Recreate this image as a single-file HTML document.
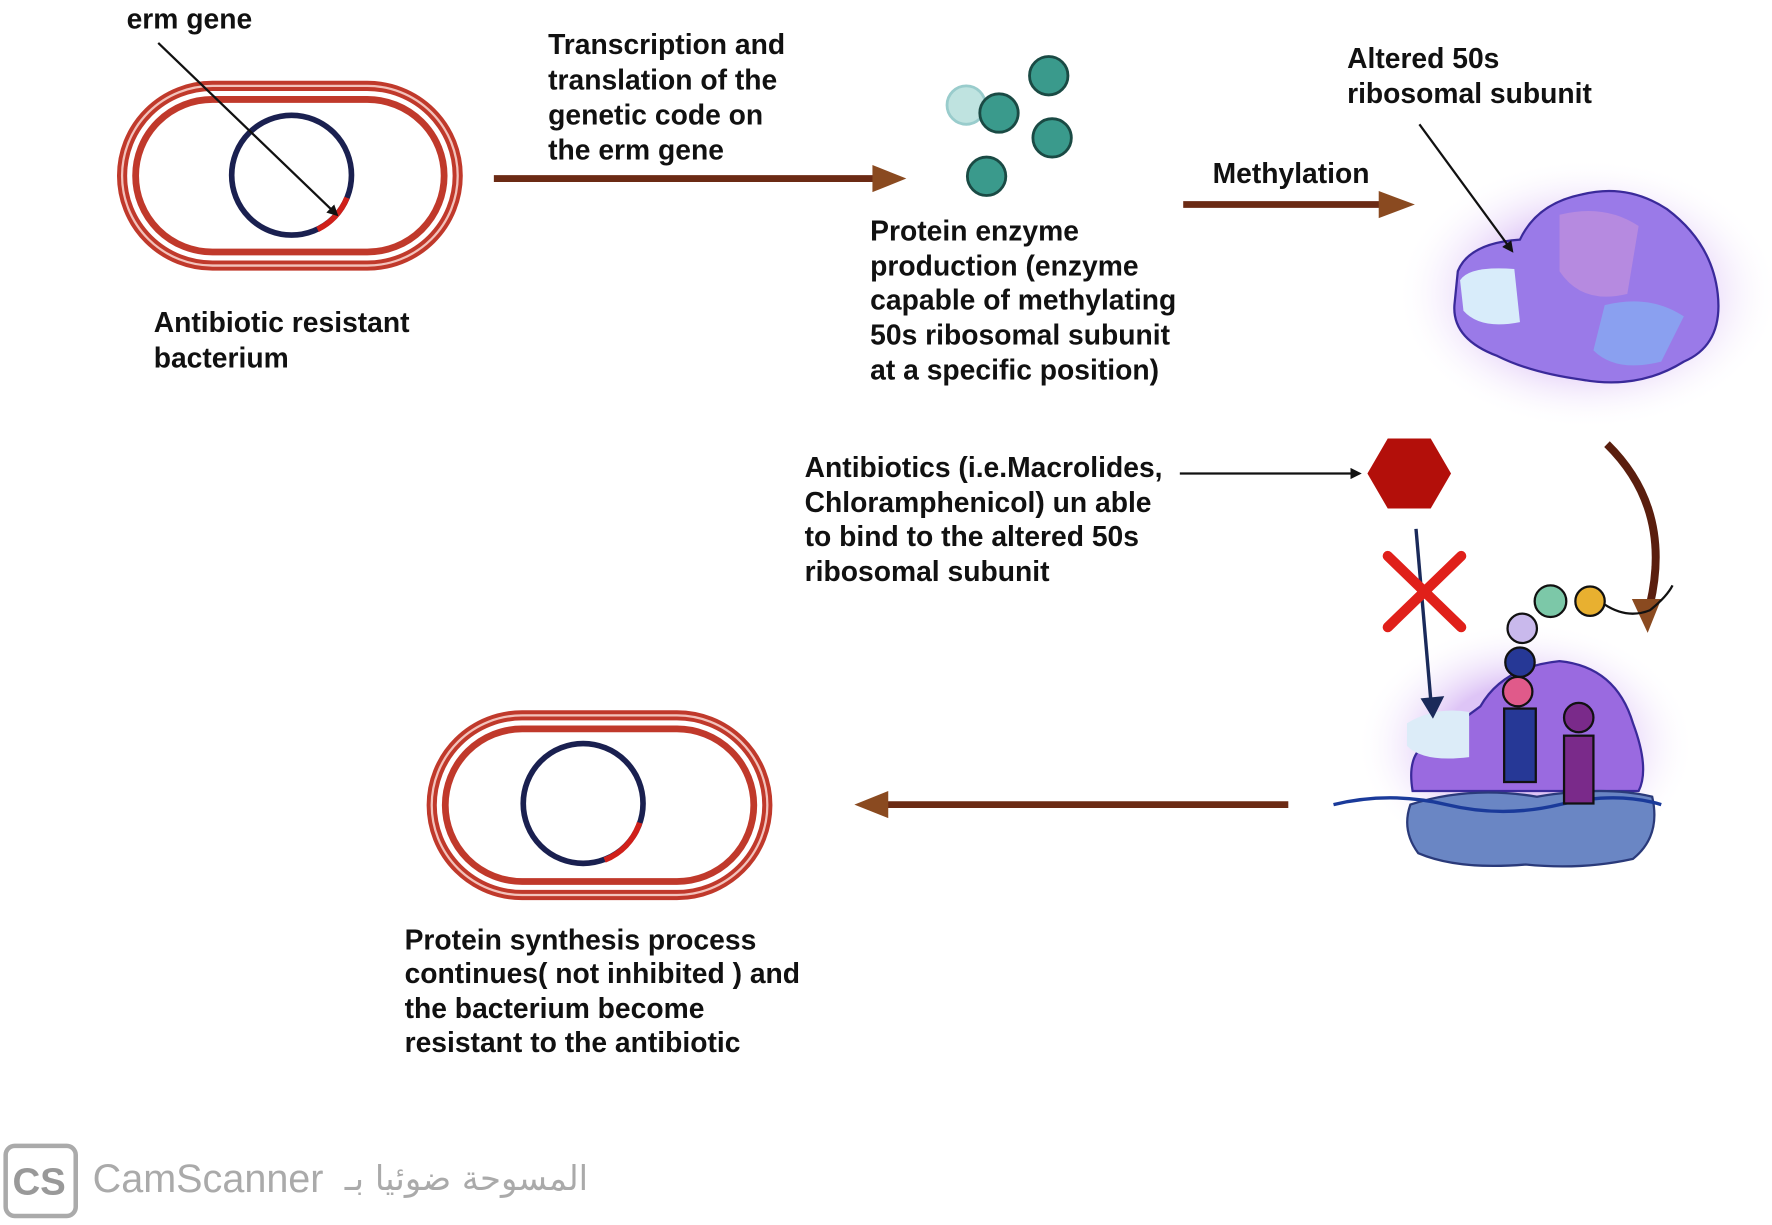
<!DOCTYPE html>
<html><head><meta charset="utf-8"><style>
html,body{margin:0;padding:0;background:#fff;}
svg{display:block}
text{font-family:"Liberation Sans",sans-serif;font-weight:bold;font-size:25px;fill:#111;}
</style></head><body>
<svg width="1772" height="1225" viewBox="0 0 1568 1084" xmlns="http://www.w3.org/2000/svg">
<defs>
<marker id="ah" markerWidth="10" markerHeight="10" refX="8" refY="5" orient="auto" markerUnits="userSpaceOnUse"><path d="M0,0 L10,5 L0,10z" fill="#111"/></marker>
<radialGradient id="glow"><stop offset="0.5" stop-color="#c89ef0" stop-opacity="0.6"/><stop offset="1" stop-color="#fff" stop-opacity="0"/></radialGradient>
</defs>
<!-- bacterium 1 -->
<g>
<rect x="108" y="76" width="297" height="159" rx="80" fill="none" stroke="#c0392b" stroke-width="9"/>
<rect x="108" y="76" width="297" height="159" rx="80" fill="none" stroke="#f2c2bb" stroke-width="2"/>
<rect x="120" y="88" width="273" height="135" rx="68" fill="none" stroke="#c0392b" stroke-width="6"/>
<circle cx="258" cy="155" r="53" fill="none" stroke="#1a2050" stroke-width="5"/>
<path d="M307,175 A53,53 0 0 1 281,203" fill="none" stroke="#d0201a" stroke-width="5"/>
<line x1="140" y1="38" x2="298" y2="190" stroke="#111" stroke-width="2" marker-end="url(#ah)"/>
</g>
<text x="112" y="25">erm gene</text>
<text x="136" y="294">Antibiotic resistant</text>
<text x="136" y="325">bacterium</text>
<!-- bacterium 2 -->
<g>
<rect x="382" y="633" width="297" height="159" rx="80" fill="none" stroke="#c0392b" stroke-width="9"/>
<rect x="382" y="633" width="297" height="159" rx="80" fill="none" stroke="#f2c2bb" stroke-width="2"/>
<rect x="394" y="645" width="273" height="135" rx="68" fill="none" stroke="#c0392b" stroke-width="6"/>
<circle cx="516" cy="711" r="53" fill="none" stroke="#1a2050" stroke-width="5"/>
<path d="M566,728 A53,53 0 0 1 535,761" fill="none" stroke="#d0201a" stroke-width="5"/>
</g>
<text x="358" y="840">Protein synthesis process</text>
<text x="358" y="870">continues( not inhibited ) and</text>
<text x="358" y="901">the bacterium become</text>
<text x="358" y="931">resistant to the antibiotic</text>
<!-- arrows -->
<g fill="#7a3a1a" stroke="#6b2a14">
<line x1="437" y1="158" x2="780" y2="158" stroke-width="6"/><path d="M772,146 L802,158 L772,170z" stroke="none" fill="#8a4a20"/>
<line x1="1047" y1="181" x2="1228" y2="181" stroke-width="6"/><path d="M1220,169 L1252,181 L1220,193z" stroke="none" fill="#8a4a20"/>
<line x1="1140" y1="712" x2="780" y2="712" stroke-width="6"/><path d="M786,700 L756,712 L786,724z" stroke="none" fill="#8a4a20"/>
</g>
<text x="485" y="48">Transcription and</text>
<text x="485" y="79">translation of the</text>
<text x="485" y="110">genetic code on</text>
<text x="485" y="141">the erm gene</text>
<text x="1073" y="162">Methylation</text>
<!-- dots -->
<g stroke="#1a4a44" stroke-width="2.5">
<circle cx="855" cy="93" r="17" fill="#bfe3e0" stroke="#9cc"/>
<circle cx="884" cy="100" r="17" fill="#3a9a8c"/>
<circle cx="928" cy="67" r="17" fill="#3a9a8c"/>
<circle cx="931" cy="122" r="17" fill="#3a9a8c"/>
<circle cx="873" cy="156" r="17" fill="#3a9a8c"/>
</g>
<text x="770" y="213">Protein enzyme</text>
<text x="770" y="244">production (enzyme</text>
<text x="770" y="274">capable of methylating</text>
<text x="770" y="305">50s ribosomal subunit</text>
<text x="770" y="336">at a specific position)</text>
<text x="1192" y="60">Altered 50s</text>
<text x="1192" y="91">ribosomal subunit</text>
<!-- ribosome top -->
<ellipse cx="1405" cy="260" rx="170" ry="120" fill="url(#glow)"/>
<path d="M1290,240 Q1300,215 1345,212 Q1360,180 1400,172 Q1440,162 1475,185 Q1515,215 1520,260 Q1525,305 1490,320 Q1450,345 1400,336 Q1355,330 1325,315 Q1285,300 1287,270z" fill="#9a7ae8" stroke="#3a2a9a" stroke-width="2"/>
<path d="M1292,248 Q1300,235 1340,238 L1345,285 Q1310,292 1295,275z" fill="#d8ecfa"/>
<path d="M1380,190 Q1420,180 1450,200 L1440,260 Q1400,270 1380,240z" fill="#b68ae0"/>
<path d="M1420,270 Q1460,260 1490,280 L1470,320 Q1430,330 1410,310z" fill="#8aa0f0"/>
<line x1="1256" y1="110" x2="1338" y2="222" stroke="#111" stroke-width="2" marker-end="url(#ah)"/>
<!-- curved arrow -->
<path d="M1422,393 Q1480,450 1460,535" fill="none" stroke="#5a1e0e" stroke-width="7"/>
<path d="M1444,530 L1458,560 L1470,530z" fill="#8a4a20"/>
<!-- hexagon -->
<polygon points="1210,419 1228,388 1266,388 1284,419 1266,450 1228,450" fill="#b30f0a"/>
<line x1="1044" y1="419" x2="1203" y2="419" stroke="#111" stroke-width="2" marker-end="url(#ah)"/>
<text x="712" y="422">Antibiotics (i.e.Macrolides,</text>
<text x="712" y="453">Chloramphenicol) un able</text>
<text x="712" y="483">to bind to the altered 50s</text>
<text x="712" y="514">ribosomal subunit</text>
<!-- ribosome bottom -->
<ellipse cx="1350" cy="660" rx="150" ry="110" fill="url(#glow)"/>
<path d="M1250,700 Q1245,670 1260,660 Q1290,640 1310,625 Q1330,590 1380,585 Q1430,590 1445,640 Q1460,680 1450,700z" fill="#9a6ae0" stroke="#3a2a9a" stroke-width="2"/>
<path d="M1245,640 Q1270,625 1300,630 L1300,670 Q1260,675 1245,660z" fill="#dcecf8"/>
<path d="M1248,712 Q1300,695 1360,705 Q1420,695 1462,705 Q1470,740 1445,760 Q1400,770 1350,765 Q1290,770 1255,755 Q1240,735 1248,712z" fill="#6a86c4" stroke="#2a3a7a" stroke-width="2"/>
<path d="M1180,712 Q1230,700 1280,712 T1380,712 T1470,712" fill="none" stroke="#1a3a9a" stroke-width="3"/>
<rect x="1331" y="627" width="28" height="65" fill="#263896" stroke="#111" stroke-width="2"/>
<rect x="1384" y="651" width="26" height="60" fill="#7a2a8a" stroke="#111" stroke-width="2"/>
<circle cx="1397" cy="635" r="13" fill="#7a2a8a" stroke="#111" stroke-width="2"/>
<circle cx="1343" cy="612" r="13" fill="#e05a8a" stroke="#111" stroke-width="2"/>
<circle cx="1345" cy="586" r="13" fill="#263896" stroke="#111" stroke-width="2"/>
<circle cx="1347" cy="556" r="13" fill="#c9b9ec" stroke="#111" stroke-width="2"/>
<circle cx="1372" cy="532" r="14" fill="#7cc8a8" stroke="#111" stroke-width="2"/>
<circle cx="1407" cy="532" r="13" fill="#e8b030" stroke="#111" stroke-width="2"/>
<path d="M1420,535 Q1440,548 1460,540 Q1475,528 1480,518" fill="none" stroke="#111" stroke-width="2"/>
<!-- blocked arrow -->
<line x1="1253" y1="468" x2="1267" y2="630" stroke="#1a2a5a" stroke-width="3"/>
<path d="M1257,618 L1268,636 L1278,616z" fill="#1a2a5a"/>
<line x1="1228" y1="492" x2="1293" y2="555" stroke="#e0201a" stroke-width="9" stroke-linecap="round"/>
<line x1="1293" y1="492" x2="1228" y2="555" stroke="#e0201a" stroke-width="9" stroke-linecap="round"/>
<!-- watermark -->
<rect x="5" y="1014" width="62" height="62" rx="8" fill="none" stroke="#aaa" stroke-width="4"/>
<text x="11" y="1057" style="font-size:34px;fill:#999">CS</text>
<text x="82" y="1055" style="font-size:35px;font-weight:normal;fill:#aaa">CamScanner</text>
<text x="305" y="1053" style="font-size:30px;font-weight:normal;fill:#aaa;font-family:'DejaVu Sans',sans-serif">المسوحة ضوئيا بـ</text>
</svg>
</body></html>
